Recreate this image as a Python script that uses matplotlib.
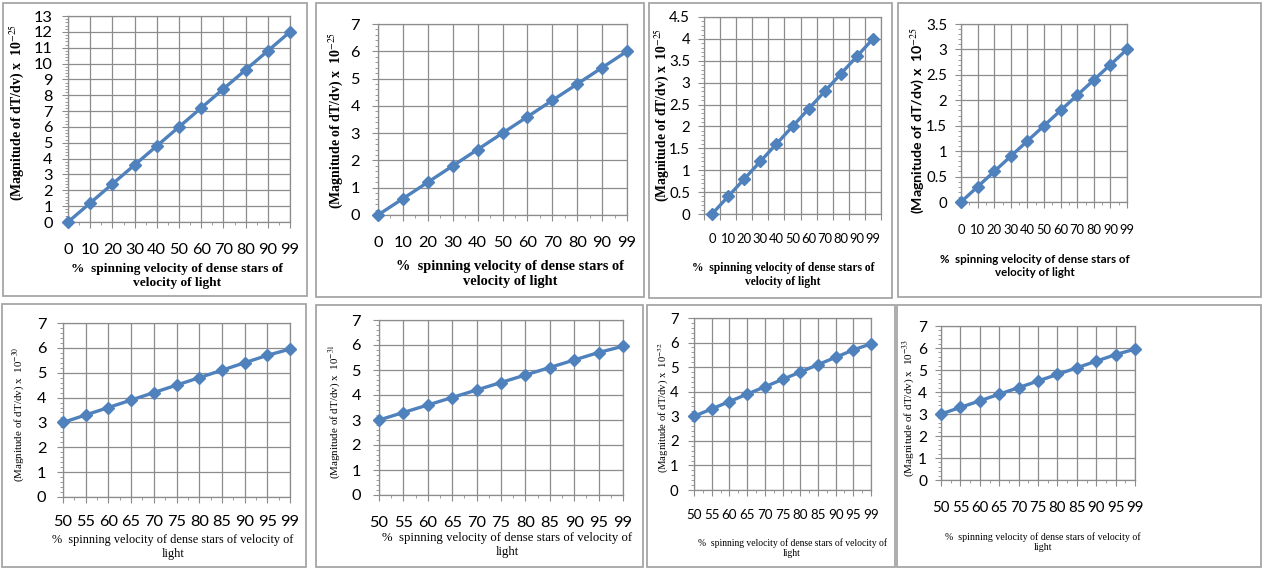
import numpy as np
import matplotlib.pyplot as plt
from matplotlib.ticker import MultipleLocator, AutoMinorLocator, FixedLocator
from matplotlib.patches import Rectangle

W, H = 1263, 569

# ---- data ----
x_top = ['0', '10', '20', '30', '40', '50', '60', '70', '80', '90', '99']
x_bot = ['50', '55', '60', '65', '70', '75', '80', '85', '90', '95', '99']

y_p1 = [0, 1.2, 2.4, 3.6, 4.8, 6.0, 7.2, 8.4, 9.6, 10.8, 12.0]
y_p2 = [0, 0.6, 1.2, 1.8, 2.4, 3.0, 3.6, 4.2, 4.8, 5.4, 6.0]
y_p3 = [0, 0.4, 0.8, 1.2, 1.6, 2.0, 2.4, 2.8, 3.2, 3.6, 4.0]
y_p4 = [0, 0.3, 0.6, 0.9, 1.2, 1.5, 1.8, 2.1, 2.4, 2.7, 3.0]
y_p5 = [3.0, 3.3, 3.6, 3.9, 4.2, 4.5, 4.8, 5.1, 5.4, 5.7, 5.95]
y_p6 = [3.0, 3.3, 3.6, 3.9, 4.2, 4.5, 4.8, 5.1, 5.4, 5.7, 5.95]
y_p7 = [3.0, 3.3, 3.6, 3.9, 4.2, 4.5, 4.8, 5.1, 5.4, 5.7, 5.95]
y_p8 = [3.0, 3.3, 3.6, 3.9, 4.2, 4.5, 4.8, 5.1, 5.4, 5.7, 5.95]

exponents = ['-25', '-25', '-25', '-25', '-30', '-31', '-32', '-33']
ymax = [13, 7, 4.5, 3.5, 7, 7, 7, 7]
ystep = [1, 1, 0.5, 0.5, 1, 1, 1, 1]

xlab_top = '%  spinning velocity of dense stars of\nvelocity of light'
xlab_bot = '%  spinning velocity of dense stars of velocity of\nlight'

BLUE = '#4F81BD'
GRID = '#8C8C8C'
BOX = '#A6A6A6'

plt.rcParams['mathtext.fontset'] = 'stix'

fig = plt.figure(figsize=(W / 100, H / 100), dpi=100)


def rect(l, t, r, b):
    return [l / W, 1 - b / H, (r - l) / W, (b - t) / H]


# layout: box, plot area, tick pads/sizes, label positions, fonts
panels = [
    dict(y=y_p1, xl=x_top, box=(3, 3, 307, 296), ax=(68, 16, 290, 222), mode='on',
         xpad=11, ypad=7, xtfs=11.8, ytfs=11.8, ylx=17, yly=112, xlx=177, xly=276,
         xlab=xlab_top, lfam='Liberation Serif', lw='bold', lfs=10, xfs=9.6),
    dict(y=y_p2, xl=x_top, box=(316, 3, 644, 297), ax=(378, 24, 627, 215), mode='on',
         xpad=11, ypad=9, xtfs=11.8, ytfs=11.8, ylx=336, yly=120, xlx=510, xly=274,
         xlab=xlab_top, lfam='Liberation Serif', lw='bold', lfs=10, xfs=10.4),
    dict(y=y_p3, xl=x_top, box=(649, 3, 892, 298), ax=(704, 17, 881, 214), mode='between',
         xpad=11, ypad=6, xtfs=9.4, ytfs=10.8, ylx=662, yly=115, xlx=783, xly=275,
         xlab=xlab_top, lfam='Liberation Serif', lw='bold', lfs=9.8, xfs=8.3),
    dict(y=y_p4, xl=x_top, box=(898, 3, 1261, 297), ax=(961, 24, 1127, 202), mode='on',
         xpad=12, ypad=6, xtfs=9.4, ytfs=10.8, ylx=917, yly=120, xlx=1035, xly=266,
         xlab=xlab_top, lfam='Lato', lw='bold', lfs=10.2, xfs=8.3),
    dict(y=y_p5, xl=x_bot, box=(2, 304, 306, 567), ax=(63, 323, 290, 497), mode='on',
         xpad=9, ypad=8, xtfs=11.8, ytfs=11.8, ylx=19, yly=414, xlx=173, xly=547,
         xlab=xlab_bot, lfam='Liberation Serif', lw='normal', lfs=7.9, xfs=8.8),
    dict(y=y_p6, xl=x_bot, box=(316, 305, 643, 567), ax=(379, 320, 623, 495), mode='on',
         xpad=11, ypad=9, xtfs=11.8, ytfs=11.8, ylx=334, yly=411, xlx=507, xly=545,
         xlab=xlab_bot, lfam='Liberation Serif', lw='normal', lfs=7.9, xfs=9.2),
    dict(y=y_p7, xl=x_bot, box=(647, 305, 895, 567), ax=(694, 318, 871, 490), mode='on',
         xpad=10, ypad=7, xtfs=9.6, ytfs=10.8, ylx=664, yly=407, xlx=792, xly=548,
         xlab=xlab_bot, lfam='Liberation Serif', lw='normal', lfs=7.7, xfs=6.9),
    dict(y=y_p8, xl=x_bot, box=(897, 305, 1261, 567), ax=(941, 326, 1135, 480), mode='on',
         xpad=11, ypad=6, xtfs=10.8, ytfs=11.2, ylx=909, yly=408, xlx=1043, xly=542,
         xlab=xlab_bot, lfam='Liberation Serif', lw='normal', lfs=8.1, xfs=7.1),
]

for i, p in enumerate(panels):
    l, t, r, b = p['box']
    fig.patches.append(Rectangle((l / W, 1 - b / H), (r - l) / W, (b - t) / H,
                                 transform=fig.transFigure, fill=False,
                                 edgecolor=BOX, linewidth=1.3))

    ax = fig.add_axes(rect(*p['ax']))
    xs = np.arange(len(p['xl']))
    ax.plot(xs, p['y'], color=BLUE, linewidth=2.4, marker='D', markersize=6,
            markeredgecolor=BLUE, zorder=3, clip_on=False)

    n = len(xs)
    if p['mode'] == 'on':
        ax.set_xlim(0, n - 1)
        ax.set_xticks(xs)
        ax.set_xticklabels(p['xl'])
        ax.xaxis.set_minor_locator(FixedLocator(xs[:-1] + 0.5))
    else:
        # categories sit between the tick marks
        ax.set_xlim(-0.5, n - 0.5)
        ax.set_xticks(np.arange(n + 1) - 0.5)
        ax.set_xticklabels([''] * (n + 1))
        ax.xaxis.set_minor_locator(FixedLocator(xs))
        ax.xaxis.set_minor_formatter(plt.FixedFormatter(p['xl']))
        ax.tick_params(axis='x', which='minor', length=0, pad=p['xpad'] + 3,
                       labelsize=p['xtfs'], labelfontfamily='Lato')

    ax.set_ylim(0, ymax[i])
    ax.yaxis.set_major_locator(MultipleLocator(ystep[i]))
    ax.yaxis.set_minor_locator(AutoMinorLocator(5))
    ax.yaxis.set_major_formatter(plt.FuncFormatter(lambda v, _: f'{v:g}'))

    ax.grid(True, which='major', color=GRID, linewidth=0.9)
    ax.set_axisbelow(True)
    for s in ax.spines.values():
        s.set_color(GRID)
        s.set_linewidth(0.9)

    ax.tick_params(axis='both', which='major', direction='out', length=4, color=GRID,
                   labelfontfamily='Lato')
    ax.tick_params(axis='x', which='major', pad=p['xpad'], labelsize=p['xtfs'])
    ax.tick_params(axis='y', which='major', pad=p['ypad'], labelsize=p['ytfs'])
    ax.tick_params(axis='both', which='minor', direction='out', length=2.5, color=GRID)
    if p['mode'] == 'between':
        ax.tick_params(axis='x', which='minor', length=0)

    ylab = f'(Magnitude of dT/dv) x  10$^{{{exponents[i]}}}$'
    fig.text(p['ylx'] / W, 1 - p['yly'] / H, ylab, rotation=90, ha='center', va='center',
             fontsize=p['lfs'], family=p['lfam'], fontweight=p['lw'])
    fig.text(p['xlx'] / W, 1 - p['xly'] / H, p['xlab'], ha='center', va='center',
             fontsize=p['xfs'], family=p['lfam'], fontweight=p['lw'], linespacing=1.15)

fig.savefig('out.png', dpi=100, facecolor='white')
